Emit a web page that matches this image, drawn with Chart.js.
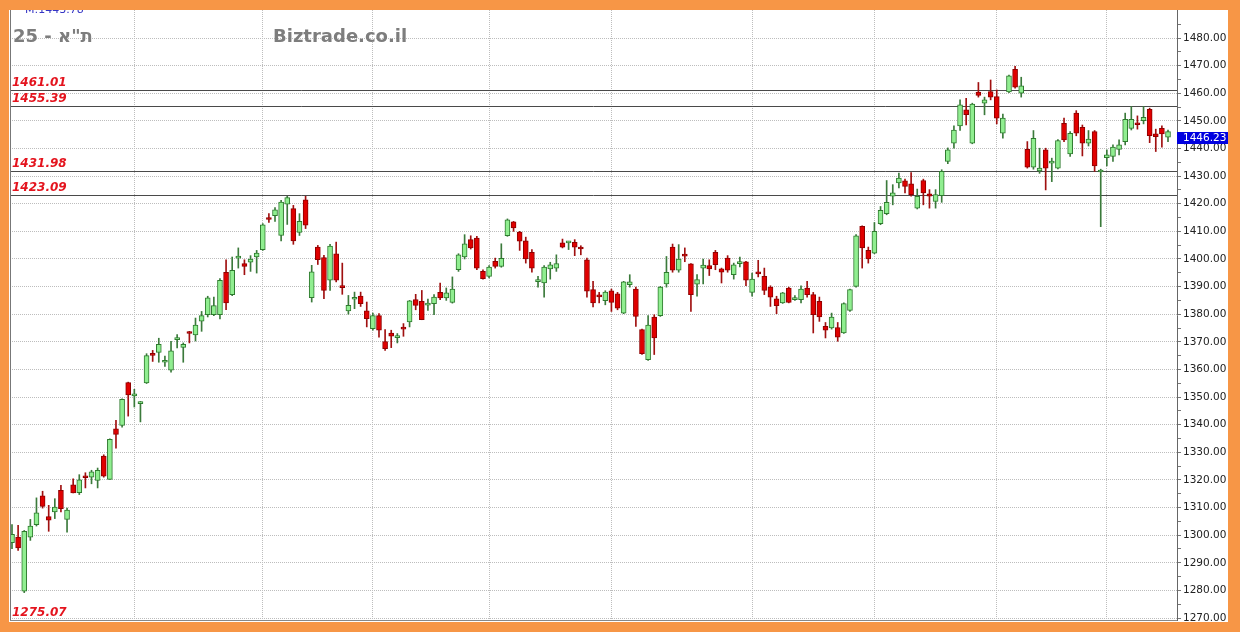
<!DOCTYPE html>
<html>
<head>
<meta charset="utf-8">
<script src="https://cdn.jsdelivr.net/npm/chart.js@4.4.1/dist/chart.umd.min.js"></script>
<style>
  html, body { margin: 0; padding: 0; background: #f79646; }
  body { width: 1240px; height: 632px; position: relative; overflow: hidden; }
  #wrap { position: absolute; left: 9px; top: 10px; width: 1219px; height: 612px; background: #fff; }
</style>
</head>
<body>
<div id="wrap"><canvas id="chart" width="1219" height="612"></canvas></div>
<script>
// -------------------- Data --------------------
const opens = [
  1297.3, 1299.3, 1279.7, 1299.3, 1303.8, 1314.2, 1306.7, 1308.4, 1316.2, 1305.7,
  1318.2, 1315.4, 1321.2, 1321.0, 1319.8, 1328.6, 1320.2, 1338.5, 1339.7, 1355.2,
  1350.4, 1347.6, 1355.1, 1365.7, 1366.2, 1362.6, 1359.7, 1370.8, 1368.0, 1373.3,
  1372.5, 1377.5, 1379.8, 1379.8, 1379.8, 1395.2, 1387.1, 1400.3, 1398.3, 1398.8,
  1400.7, 1403.4, 1414.7, 1415.7, 1408.5, 1419.8, 1418.2, 1409.6, 1421.4, 1386.0,
  1404.3, 1400.5, 1392.3, 1401.9, 1390.0, 1381.2, 1385.4, 1386.6, 1381.2, 1374.8,
  1379.5, 1370.1, 1373.2, 1371.5, 1375.0, 1377.2, 1385.3, 1384.7, 1383.3, 1383.8,
  1387.9, 1385.9, 1384.3, 1396.1, 1400.7, 1407.0, 1407.6, 1395.5, 1393.7, 1399.1,
  1397.3, 1408.4, 1413.4, 1409.7, 1406.6, 1402.4, 1391.8, 1391.3, 1396.4, 1396.7,
  1405.8, 1405.8, 1406.0, 1404.0, 1399.7, 1388.9, 1386.7, 1384.9, 1388.5, 1387.4,
  1380.4, 1390.7, 1389.1, 1374.4, 1363.5, 1379.0, 1379.5, 1391.0, 1404.3, 1395.9,
  1401.5, 1398.2, 1390.9, 1396.7, 1397.6, 1402.4, 1396.4, 1400.3, 1394.3, 1398.3,
  1399.0, 1387.9, 1395.0, 1393.7, 1389.8, 1385.6, 1384.1, 1389.5, 1385.3, 1385.3,
  1389.5, 1387.1, 1384.7, 1375.6, 1375.0, 1375.2, 1373.2, 1381.4, 1390.1, 1411.8,
  1403.1, 1402.1, 1412.8, 1416.4, 1422.7, 1427.5, 1428.3, 1427.2, 1418.4, 1428.4,
  1423.6, 1420.8, 1422.9, 1435.3, 1441.9, 1448.2, 1454.0, 1441.9, 1460.4, 1456.4,
  1460.6, 1458.8, 1445.5, 1460.5, 1468.7, 1460.0, 1439.7, 1433.2, 1431.9, 1439.5,
  1434.7, 1432.9, 1449.1, 1438.0, 1452.8, 1447.7, 1441.9, 1446.1, 1431.5, 1436.7,
  1437.1, 1439.7, 1442.5, 1447.3, 1449.0, 1450.1, 1454.2, 1445.3, 1447.3, 1444.1
];
const highs = [
  1303.8, 1303.6, 1301.7, 1305.7, 1313.5, 1315.9, 1310.8, 1313.2, 1318.0, 1309.8,
  1320.4, 1321.9, 1322.6, 1323.5, 1324.3, 1329.1, 1334.9, 1341.6, 1349.4, 1355.4,
  1352.8, 1348.4, 1365.7, 1366.9, 1371.3, 1364.8, 1370.2, 1372.6, 1369.6, 1373.8,
  1378.6, 1381.0, 1386.5, 1386.2, 1392.9, 1399.7, 1400.7, 1404.0, 1399.7, 1401.2,
  1403.1, 1412.8, 1416.4, 1418.6, 1421.2, 1422.7, 1419.4, 1416.4, 1422.7, 1397.7,
  1404.9, 1401.3, 1405.3, 1406.1, 1398.5, 1386.8, 1388.0, 1388.0, 1384.4, 1380.4,
  1380.2, 1374.4, 1374.2, 1373.0, 1376.6, 1385.0, 1387.2, 1388.6, 1385.5, 1387.1,
  1391.3, 1389.5, 1393.5, 1401.9, 1408.8, 1408.4, 1408.2, 1396.1, 1397.6, 1400.3,
  1405.5, 1414.5, 1413.6, 1410.0, 1407.9, 1403.4, 1393.7, 1397.6, 1398.8, 1401.5,
  1407.2, 1406.4, 1407.0, 1404.8, 1400.3, 1391.9, 1387.9, 1388.5, 1389.1, 1387.9,
  1391.9, 1394.3, 1389.8, 1374.6, 1379.5, 1379.8, 1390.1, 1400.9, 1405.4, 1405.2,
  1404.0, 1398.3, 1394.3, 1400.0, 1399.7, 1403.1, 1396.7, 1401.2, 1398.5, 1400.7,
  1399.1, 1394.9, 1399.5, 1396.7, 1390.3, 1386.5, 1387.9, 1389.8, 1386.7, 1390.3,
  1391.9, 1387.9, 1386.2, 1377.0, 1380.4, 1377.0, 1384.1, 1389.1, 1408.8, 1412.0,
  1404.3, 1413.2, 1419.0, 1428.4, 1426.9, 1431.1, 1428.9, 1431.3, 1425.3, 1428.9,
  1425.1, 1425.1, 1432.3, 1440.2, 1448.2, 1457.6, 1458.2, 1456.4, 1463.9, 1458.6,
  1464.8, 1461.2, 1452.5, 1466.6, 1469.7, 1465.8, 1442.5, 1446.5, 1440.1, 1440.1,
  1436.5, 1443.2, 1451.0, 1446.1, 1453.7, 1448.5, 1446.5, 1446.5, 1432.5, 1439.5,
  1441.3, 1443.1, 1452.8, 1455.2, 1451.8, 1455.2, 1454.6, 1447.0, 1448.2, 1446.7
];
const lows = [
  1295.1, 1294.5, 1279.2, 1298.1, 1303.3, 1309.8, 1301.4, 1306.0, 1308.4, 1301.1,
  1315.3, 1314.7, 1317.1, 1318.6, 1317.1, 1321.0, 1320.2, 1331.5, 1339.1, 1343.1,
  1346.4, 1341.0, 1354.9, 1362.9, 1362.6, 1361.1, 1359.0, 1367.8, 1362.6, 1369.6,
  1370.3, 1373.8, 1379.0, 1379.5, 1378.3, 1381.6, 1386.7, 1396.7, 1394.3, 1395.5,
  1394.9, 1403.1, 1413.2, 1413.6, 1406.5, 1412.5, 1405.3, 1408.5, 1411.0, 1384.4,
  1398.0, 1385.6, 1388.6, 1391.7, 1387.2, 1380.0, 1382.0, 1382.8, 1375.4, 1374.2,
  1371.7, 1366.9, 1367.9, 1369.6, 1372.0, 1375.4, 1381.6, 1378.0, 1381.4, 1379.8,
  1385.3, 1385.0, 1384.0, 1395.5, 1400.0, 1403.6, 1396.1, 1392.7, 1393.1, 1396.7,
  1397.0, 1408.2, 1410.0, 1403.1, 1398.5, 1395.2, 1389.8, 1386.2, 1392.7, 1395.5,
  1404.0, 1403.4, 1401.2, 1401.5, 1386.2, 1382.6, 1384.1, 1383.4, 1381.0, 1381.6,
  1380.2, 1389.8, 1375.6, 1365.4, 1363.3, 1365.4, 1379.2, 1389.8, 1395.2, 1395.2,
  1399.0, 1381.0, 1386.5, 1391.0, 1394.0, 1396.1, 1391.3, 1395.2, 1392.7, 1397.1,
  1390.3, 1386.5, 1393.5, 1387.1, 1382.8, 1380.2, 1383.9, 1384.1, 1385.0, 1384.1,
  1386.2, 1373.2, 1377.4, 1371.4, 1374.6, 1370.2, 1373.0, 1381.0, 1389.8, 1396.7,
  1398.5, 1401.9, 1412.4, 1416.0, 1419.6, 1425.7, 1423.9, 1422.7, 1418.1, 1419.6,
  1418.4, 1418.4, 1420.5, 1434.5, 1440.1, 1446.5, 1448.5, 1441.7, 1458.6, 1452.2,
  1457.6, 1448.9, 1443.7, 1460.2, 1461.8, 1458.6, 1432.9, 1432.5, 1431.0, 1425.0,
  1428.0, 1432.6, 1442.5, 1437.1, 1444.6, 1437.3, 1440.9, 1431.7, 1411.7, 1433.7,
  1435.3, 1437.7, 1441.3, 1446.7, 1447.0, 1448.9, 1442.1, 1438.9, 1440.5, 1442.5
];
const closes = [
  1300.3, 1295.4, 1301.4, 1303.3, 1308.1, 1310.4, 1305.4, 1310.2, 1309.6, 1309.1,
  1315.3, 1320.0, 1320.8, 1322.9, 1323.5, 1321.4, 1334.7, 1336.5, 1349.2, 1350.8,
  1351.2, 1348.0, 1365.0, 1365.1, 1369.1, 1363.2, 1366.7, 1371.2, 1369.1, 1373.0,
  1376.1, 1379.5, 1385.9, 1383.1, 1392.3, 1384.1, 1395.9, 1401.0, 1397.3, 1400.0,
  1402.1, 1412.4, 1414.3, 1417.8, 1420.6, 1422.2, 1406.5, 1413.6, 1412.2, 1395.3,
  1399.7, 1388.6, 1404.7, 1392.3, 1389.6, 1383.2, 1385.8, 1383.8, 1378.4, 1379.5,
  1374.2, 1367.5, 1372.0, 1371.9, 1374.6, 1384.8, 1383.2, 1378.0, 1383.7, 1386.2,
  1385.9, 1387.7, 1389.1, 1401.5, 1405.5, 1404.0, 1396.7, 1392.9, 1397.1, 1397.3,
  1400.2, 1414.2, 1411.2, 1406.4, 1400.0, 1396.7, 1392.4, 1397.1, 1397.9, 1398.3,
  1404.3, 1406.2, 1404.3, 1403.6, 1388.3, 1384.1, 1386.3, 1388.0, 1384.3, 1382.2,
  1391.7, 1391.7, 1379.2, 1365.7, 1376.1, 1371.4, 1389.8, 1395.2, 1395.9, 1400.0,
  1401.0, 1387.1, 1392.5, 1397.8, 1396.4, 1397.9, 1395.2, 1395.9, 1397.9, 1398.7,
  1392.3, 1392.7, 1394.6, 1388.6, 1386.2, 1383.1, 1387.7, 1384.3, 1385.7, 1389.1,
  1387.1, 1379.8, 1379.0, 1374.2, 1379.0, 1371.7, 1383.8, 1388.9, 1408.4, 1404.0,
  1400.0, 1410.0, 1417.6, 1420.5, 1423.9, 1429.3, 1426.3, 1423.3, 1422.7, 1423.9,
  1422.7, 1423.3, 1431.7, 1439.5, 1446.7, 1455.8, 1452.2, 1456.1, 1459.2, 1457.6,
  1458.6, 1451.0, 1451.0, 1466.3, 1462.2, 1462.7, 1433.2, 1443.7, 1432.9, 1432.9,
  1435.1, 1442.9, 1443.1, 1445.5, 1445.5, 1441.9, 1443.4, 1433.7, 1432.0, 1437.7,
  1440.5, 1441.3, 1450.6, 1450.6, 1448.6, 1451.3, 1444.6, 1444.3, 1445.3, 1446.1
];

// month separators (candle numbers) and price levels
const monthStarts = [21, 42, 60, 79, 99, 122, 142, 162, 180];
const levels = [1461.01, 1455.39, 1431.98, 1423.09];
const yLabels = [1270, 1280, 1290, 1300, 1310, 1320, 1330, 1340, 1350, 1360, 1370,
  1380, 1390, 1400, 1410, 1420, 1430, 1440, 1450, 1460, 1470, 1480];
const lastPrice = '1446.23';

const candleNo = opens.map((_, i) => i + 1);
const isUp = opens.map((o, i) => closes[i] >= o);

// -------------------- Overlay plugin --------------------
const overlay = {
  id: 'overlay',
  beforeDatasetsDraw(chart) {
    const { ctx, chartArea: a, scales: { y } } = chart;
    ctx.save();
    ctx.strokeStyle = '#4a4a4a';
    ctx.lineWidth = 1;
    levels.forEach(v => {
      const py = Math.round(y.getPixelForValue(v)) + 0.5;
      ctx.beginPath();
      ctx.moveTo(a.left, py);
      ctx.lineTo(a.right, py);
      ctx.stroke();
    });
    ctx.restore();
  },
  afterDraw(chart) {
    const { ctx, chartArea: a, scales: { y } } = chart;
    ctx.save();
    // left frame line
    ctx.strokeStyle = '#777';
    ctx.beginPath();
    ctx.moveTo(a.left + 0.5, a.top);
    ctx.lineTo(a.left + 0.5, a.bottom);
    ctx.stroke();

    // level labels
    ctx.fillStyle = '#e4141e';
    ctx.font = 'italic bold 12px "DejaVu Sans"';
    ctx.textBaseline = 'alphabetic';
    levels.forEach(v => {
      ctx.fillText(v.toFixed(2), 3, Math.round(y.getPixelForValue(v)) - 4);
    });
    ctx.fillText('1275.07', 3, 606);

    // headings
    ctx.fillStyle = '#7d7d7d';
    ctx.font = 'bold 18px "DejaVu Sans"';
    ctx.fillText('25 - \u05EA"\u05D0', 4, 32);
    ctx.fillText('Biztrade.co.il', 264, 32);

    ctx.fillStyle = '#3434c4';
    ctx.font = '11px "DejaVu Sans"';
    ctx.fillText('M:1443.78', 16, 3);

    // last price tag
    ctx.fillStyle = '#0000e0';
    ctx.fillRect(a.right, 122, 51, 12);
    ctx.fillStyle = '#fff';
    ctx.font = '10.5px "DejaVu Sans"';
    ctx.textBaseline = 'middle';
    ctx.fillText(lastPrice, a.right + 6, 128.5);
    ctx.restore();
  }
};

// -------------------- Chart --------------------
new Chart(document.getElementById('chart'), {
  type: 'bar',
  data: {
    datasets: [
      {
        label: 'Body',
        data: candleNo.map((x, i) => ({ x, y: [opens[i], closes[i]] })),
        backgroundColor: isUp.map(u => u ? '#90ee90' : '#e00000'),
        borderColor: isUp.map(u => u ? '#2e7a2e' : '#8e0000'),
        borderWidth: 1,
        borderSkipped: false,
        barThickness: 5,
        minBarLength: 2,
        grouped: false
      },
      {
        label: 'Wick',
        data: candleNo.map((x, i) => ({ x, y: [lows[i], highs[i]] })),
        backgroundColor: isUp.map(u => u ? '#3b7a3b' : '#a01010'),
        barThickness: 1,
        grouped: false
      }
    ]
  },
  options: {
    responsive: false,
    animation: false,
    events: [],
    layout: { padding: { left: 1, right: 0, top: 0, bottom: 0 }, autoPadding: false },
    plugins: { legend: { display: false }, tooltip: { enabled: false } },
    scales: {
      x: {
        type: 'linear',
        min: 0.673,
        max: 191.47,
        offset: false,
        afterBuildTicks: s => { s.ticks = monthStarts.map(v => ({ value: v })); },
        afterFit: s => { s.height = 2; s.paddingLeft = 0; s.paddingRight = 0; },
        ticks: { display: false },
        grid: { color: '#bdbdbd', drawTicks: false, offset: false },
        border: { display: true, color: '#888', dash: [1, 1] }
      },
      y: {
        position: 'right',
        min: 1269.28,
        max: 1490.14,
        afterBuildTicks: s => {
          const t = [];
          yLabels.forEach(v => { t.push({ value: v }); t.push({ value: v + 5 }); });
          s.ticks = t;
        },
        afterFit: s => { s.width = 51; s.paddingTop = 0; s.paddingBottom = 0; },
        ticks: {
          autoSkip: false,
          padding: 2,
          color: '#222',
          font: { family: 'DejaVu Sans', size: 10.5 },
          callback: v => (v % 10 === 0 ? v.toFixed(2) : '')
        },
        grid: {
          color: c => (c.tick && c.tick.value % 10 === 0 ? '#bdbdbd' : 'rgba(0,0,0,0)'),
          tickColor: '#777',
          tickLength: 4,
          tickBorderDash: []
        },
        border: { display: true, color: '#666', dash: [1, 1] }
      }
    }
  },
  plugins: [overlay]
});
</script>
</body>
</html>
